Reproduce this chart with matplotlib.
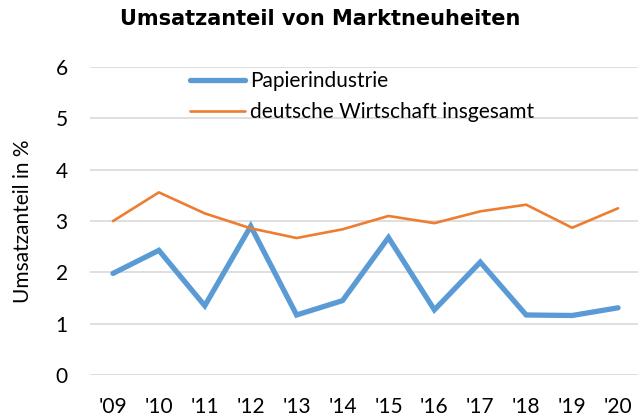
import matplotlib.pyplot as plt

years = ["'09", "'10", "'11", "'12", "'13", "'14", "'15", "'16", "'17", "'18", "'19", "'20"]
papier = [1.98, 2.43, 1.35, 2.90, 1.17, 1.45, 2.68, 1.27, 2.20, 1.17, 1.16, 1.31]
gesamt = [3.00, 3.56, 3.15, 2.86, 2.67, 2.84, 3.10, 2.96, 3.19, 3.32, 2.87, 3.25]

plt.rcParams['font.family'] = ['Lato', 'DejaVu Sans']

fig = plt.figure(figsize=(6.38, 4.18), dpi=100)
W, H = 638, 418
ax = fig.add_axes([90 / W, 1 - 375 / H, 551 / W, (375 - 67.2) / H])

x = range(len(years))
ax.plot(x, papier, color='#5B9BD5', lw=3.8, solid_capstyle='round', solid_joinstyle='miter',
        label='Papierindustrie', zorder=3)
ax.plot(x, gesamt, color='#ED7D31', lw=1.9, solid_capstyle='round',
        label='deutsche Wirtschaft insgesamt', zorder=3)

ax.set_xlim(-0.5, len(years) - 0.5)
ax.set_ylim(0, 6)
ax.set_yticks(range(0, 7))
ax.set_xticks(list(x))
ax.set_xticklabels(years)
ax.grid(axis='y', color='#D9D9D9', lw=1.2)
ax.set_axisbelow(True)
for s in ax.spines.values():
    s.set_visible(False)
ax.tick_params(length=0, labelsize=15, colors='#000000')
ax.tick_params(axis='x', pad=16)
ax.tick_params(axis='y', pad=16)

ax.set_ylabel('Umsatzanteil in %', fontsize=15, labelpad=16)

fig.text(320 / W, 1 - 19 / H, 'Umsatzanteil von Marktneuheiten', ha='center', va='center',
         fontsize=15, fontweight='bold', family='DejaVu Sans')

leg = ax.legend(loc='upper left', bbox_to_anchor=(190 / W, 1 - 71 / H),
                bbox_transform=fig.transFigure, borderaxespad=0, borderpad=0,
                frameon=False, fontsize=15,
                handlelength=2.65, handletextpad=0.25, labelspacing=0.52)

fig.savefig('out.png', dpi=100)
